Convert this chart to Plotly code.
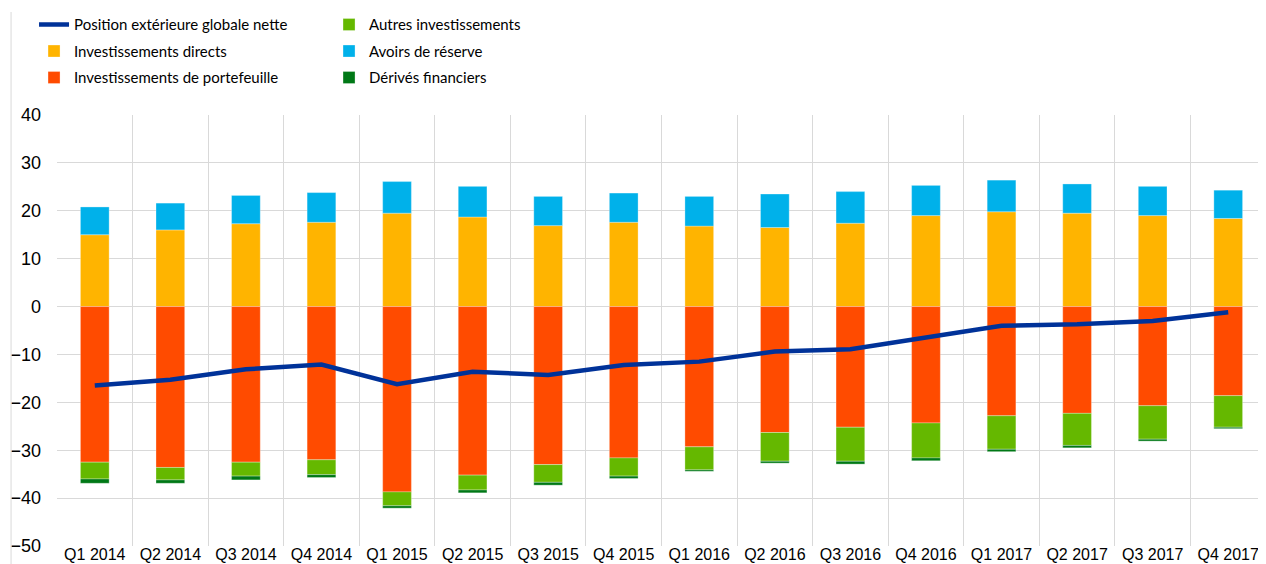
import plotly.graph_objects as go

# Position extérieure globale de la zone euro (% du PIB)
quarters = [
    "Q1 2014", "Q2 2014", "Q3 2014", "Q4 2014",
    "Q1 2015", "Q2 2015", "Q3 2015", "Q4 2015",
    "Q1 2016", "Q2 2016", "Q3 2016", "Q4 2016",
    "Q1 2017", "Q2 2017", "Q3 2017", "Q4 2017",
]
net_position = [-16.5, -15.3, -13.1, -12.1, -16.2, -13.6, -14.3, -12.2,
                -11.5, -9.4, -8.9, -6.4, -4.0, -3.7, -3.0, -1.2]
direct_inv = [15.0, 16.0, 17.3, 17.6, 19.5, 18.7, 16.9, 17.6,
              16.8, 16.5, 17.4, 19.0, 19.8, 19.5, 19.0, 18.4]
portfolio_inv = [-32.5, -33.6, -32.5, -32.0, -38.7, -35.2, -33.0, -31.6,
                 -29.3, -26.3, -25.2, -24.3, -22.8, -22.3, -20.7, -18.6]
other_inv = [-3.5, -2.6, -2.9, -3.1, -2.9, -3.1, -3.7, -3.8,
             -4.8, -6.0, -7.1, -7.3, -7.0, -6.7, -7.0, -6.6]
reserves = [5.8, 5.6, 5.9, 6.2, 6.6, 6.4, 6.1, 6.1,
            6.2, 7.0, 6.6, 6.3, 6.6, 6.1, 6.1, 5.9]
derivatives = [-0.9, -0.7, -0.8, -0.6, -0.5, -0.6, -0.6, -0.5,
               -0.3, -0.4, -0.6, -0.6, -0.5, -0.5, -0.4, -0.3]

# palette BCE
C_LINE = "#003299"
C_DIRECT = "#FFB400"
C_PORTF = "#FF4B00"
C_OTHER = "#65B800"
C_RESERVE = "#00B1EA"
C_DERIV = "#007816"

LEGEND_FONT = "Lato, Liberation Sans, sans-serif"
REGULAR = "Liberation Sans, Arial, sans-serif"

fig = go.Figure()

bar_line = dict(color="rgba(255,255,255,0.6)", width=0.5)


def add_bar(values, name, color, legend, rank):
    fig.add_trace(go.Bar(x=quarters, y=values, name=name,
                         marker=dict(color=color, line=bar_line),
                         legend=legend, legendrank=rank, legendgroup=name))


# ordre des traces = ordre d'empilement (positif et négatif séparément)
add_bar(direct_inv, "Investissements directs", C_DIRECT, "legend", 2)
add_bar(portfolio_inv, "Investissements de portefeuille", C_PORTF, "legend", 3)
add_bar(other_inv, "Autres investissements", C_OTHER, "legend2", 1)
add_bar(reserves, "Avoirs de réserve", C_RESERVE, "legend2", 2)
add_bar(derivatives, "Dérivés financiers", C_DERIV, "legend2", 3)
fig.add_trace(go.Scatter(x=quarters, y=net_position, mode="lines",
                         name="Position extérieure globale nette",
                         legendgroup="pos",
                         line=dict(color=C_LINE, width=4.5), legend="legend", legendrank=1))

legend_style = dict(
    orientation="v", xref="paper", yref="paper",
    yanchor="top", xanchor="left",
    font=dict(family=LEGEND_FONT, size=15, color="#000000"),
    bgcolor="rgba(0,0,0,0)", traceorder="grouped",
    tracegroupgap=4,
    itemwidth=30,
)

# la page HTML ajoute 8 px de marge au body : figure réduite d'autant
fig.update_layout(
    width=1258, height=556,
    barmode="relative",
    bargap=0.62,
    plot_bgcolor="white",
    paper_bgcolor="white",
    margin=dict(l=49, r=0, t=107, b=18),
    legend=dict(legend_style, x=-0.019, y=1.2476),
    legend2=dict(legend_style, x=0.225, y=1.2476),
    showlegend=True,
)

fig.update_xaxes(
    type="category",
    range=[-0.5, 15.5],
    tickson="boundaries",
    showgrid=True, gridcolor="#d9d9d9", gridwidth=1,
    showline=False, zeroline=False,
    ticks="",
    tickfont=dict(family=REGULAR, size=16, color="#000000"),
    ticklabelstandoff=-3,
    automargin=False,
)

fig.update_yaxes(
    range=[-50, 40],
    dtick=10,
    showgrid=True, gridcolor="#d9d9d9", gridwidth=1,
    zeroline=True, zerolinecolor="#d9d9d9", zerolinewidth=1,
    showline=False,
    tickfont=dict(family=REGULAR, size=18, color="#000000"),
    ticklabelstandoff=15,
    automargin=False,
)

# bordure gauche du cadre d'origine
fig.add_shape(type="line", xref="paper", yref="paper",
              x0=-0.038, x1=-0.038, y0=-0.045, y1=1.239,
              line=dict(color="#d9d9d9", width=1))

fig.write_html("out.html")
